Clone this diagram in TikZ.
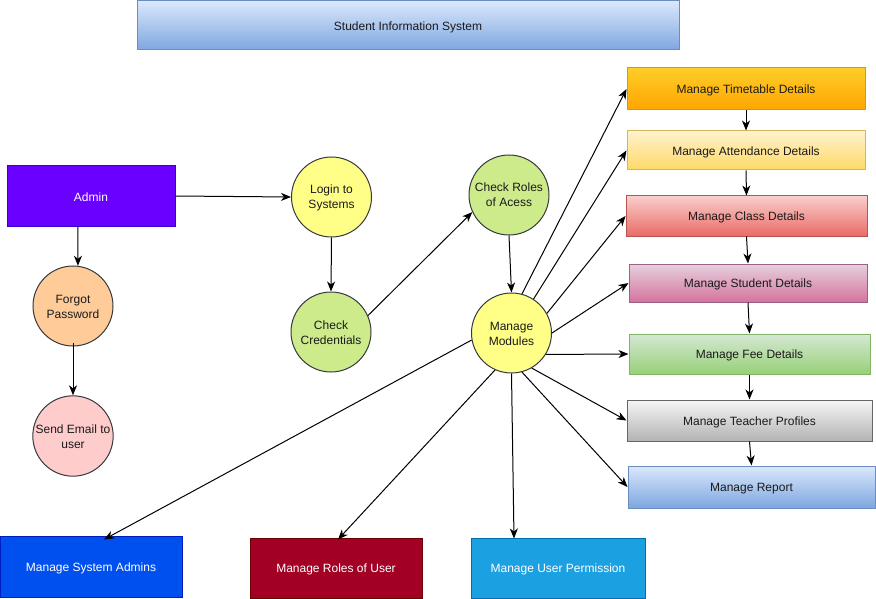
\documentclass[tikz,border=0pt]{standalone}
\usepackage{fontspec}
\setmainfont{Liberation Sans}
\usetikzlibrary{arrows.meta,calc}
\definecolor{txt}{HTML}{1A1A1A}
\definecolor{circbd}{HTML}{36393D}
\newcommand{\lowtext}[1]{\raisebox{-1.5pt}[\height][\depth]{#1}}
\newcommand{\lowlines}[2]{\raisebox{-1.5pt}[\height][\depth]{\begin{tabular}{@{}c@{}}#1\\#2\end{tabular}}}
\begin{document}
\begin{tikzpicture}[x=1pt,y=-1pt,
  font=\fontsize{12}{15}\selectfont,
  gbox/.style={draw, line width=1pt, inner sep=0pt, align=center, text=txt},
  sbox/.style={draw, line width=1pt, inner sep=0pt, align=center, text=white},
  circ/.style={circle, draw=circbd, line width=1pt, minimum size=80pt, inner sep=0pt, align=center, text=txt},
  conn/.style={line width=1pt, -{Stealth[length=10pt,width=8pt,inset=3pt]}}
]
\useasboundingbox (0,0) rectangle (876,599);

% title
\node[gbox, top color={rgb,255:red,218;green,232;blue,252}, bottom color={rgb,255:red,126;green,166;blue,224}, draw={rgb,255:red,108;green,142;blue,191}, minimum width=542pt, minimum height=49pt] (title) at (408,25.5) {\lowtext{Student Information System}};

% left side
\node[sbox, fill={rgb,255:red,106;green,0;blue,255}, draw={rgb,255:red,55;green,0;blue,204}, minimum width=168pt, minimum height=60pt] (admin) at (91,196) {\lowtext{Admin}};
\node[circ, fill={rgb,255:red,255;green,204;blue,153}] (fp) at (73,306) {\lowlines{Forgot}{Password}};
\node[circ, fill={rgb,255:red,255;green,204;blue,204}] (se) at (73,436) {\lowlines{Send Email to}{user}};

% middle circles
\node[circ, fill={rgb,255:red,255;green,255;blue,136}] (login) at (331.5,197) {\lowlines{Login to}{Systems}};
\node[circ, fill={rgb,255:red,205;green,235;blue,139}] (cc) at (331,332) {\lowlines{Check}{Credentials}};
\node[circ, fill={rgb,255:red,205;green,235;blue,139}] (cro) at (509,195) {\lowlines{Check Roles}{of Acess}};
\node[circ, fill={rgb,255:red,255;green,255;blue,136}] (mm) at (511.5,333) {\lowlines{Manage}{Modules}};

% right column
\node[gbox, top color={rgb,255:red,255;green,205;blue,40}, bottom color={rgb,255:red,255;green,165;blue,0}, draw={rgb,255:red,215;green,155;blue,0}, minimum width=238pt, minimum height=42pt] (tt) at (746,89) {\lowtext{Manage Timetable Details}};
\node[gbox, top color={rgb,255:red,255;green,242;blue,204}, bottom color={rgb,255:red,255;green,217;blue,102}, draw={rgb,255:red,214;green,182;blue,86}, minimum width=238pt, minimum height=39pt] (att) at (746,150.5) {\lowtext{Manage Attendance Details}};
\node[gbox, top color={rgb,255:red,248;green,206;blue,204}, bottom color={rgb,255:red,234;green,107;blue,102}, draw={rgb,255:red,184;green,84;blue,80}, minimum width=241pt, minimum height=40pt] (cls) at (746.5,216) {\lowtext{Manage Class Details}};
\node[gbox, top color={rgb,255:red,230;green,208;blue,222}, bottom color={rgb,255:red,213;green,115;blue,157}, draw={rgb,255:red,153;green,97;blue,133}, minimum width=238pt, minimum height=38pt] (stu) at (748,283) {\lowtext{Manage Student Details}};
\node[gbox, top color={rgb,255:red,213;green,232;blue,212}, bottom color={rgb,255:red,151;green,208;blue,119}, draw={rgb,255:red,130;green,179;blue,102}, minimum width=241pt, minimum height=40pt] (fee) at (749.5,354) {\lowtext{Manage Fee Details}};
\node[gbox, top color={rgb,255:red,245;green,245;blue,245}, bottom color={rgb,255:red,179;green,179;blue,179}, draw={rgb,255:red,102;green,102;blue,102}, minimum width=245pt, minimum height=41pt] (tch) at (749.5,420.5) {\lowtext{Manage Teacher Profiles}};
\node[gbox, top color={rgb,255:red,218;green,232;blue,252}, bottom color={rgb,255:red,126;green,166;blue,224}, draw={rgb,255:red,108;green,142;blue,191}, minimum width=247pt, minimum height=42pt] (rep) at (751.5,487) {\lowtext{Manage Report}};

% bottom row
\node[sbox, fill={rgb,255:red,0;green,80;blue,239}, draw={rgb,255:red,0;green,29;blue,188}, minimum width=182pt, minimum height=61pt] (sa) at (91,566.5) {\lowtext{Manage System Admins}};
\node[sbox, fill={rgb,255:red,162;green,0;blue,37}, draw={rgb,255:red,111;green,0;blue,0}, minimum width=172pt, minimum height=60pt] (ru) at (336,568) {\lowtext{Manage Roles of User}};
\node[sbox, fill={rgb,255:red,27;green,161;blue,226}, draw={rgb,255:red,0;green,110;blue,175}, minimum width=174pt, minimum height=60pt] (pm) at (558,568) {\lowtext{Manage User Permission}};

% connectors
\draw[conn] (admin.east) -- (login.west);
\draw[conn] ([xshift=-13pt]admin.south) -- (fp.83);
\draw[conn] ([yshift=4pt]fp.south) -- (se.north);
\draw[conn] (login.south) -- (cc.north);
\draw[conn] (cc.24) -- (cro.205);
\draw[conn] (cro.south) -- (mm.north);

\draw[conn] (mm.75) -- (tt.west);
\draw[conn] (mm.57) -- (att.west);
\draw[conn] (mm.29) -- (cls.west);
\draw[conn] (mm.0) -- (stu.west);
\draw[conn] (mm.-32) -- (fee.west);
\draw[conn] (mm.-60) -- (tch.west);
\draw[conn] (mm.-75) -- (rep.west);
\draw[conn] (mm.190) -- ([xshift=13pt,yshift=-4pt]sa.north);
\draw[conn] (mm.246) -- ([xshift=2pt,yshift=-2pt]ru.north);
\draw[conn] (mm.270) -- ([xshift=-44pt,yshift=-1pt]pm.north);

\draw[conn] (tt.south) -- (att.north);
\draw[conn] (att.south) -- (cls.north);
\draw[conn] (cls.south) -- (stu.north);
\draw[conn] (stu.south) -- (fee.north);
\draw[conn] (fee.south) -- (tch.north);
\draw[conn] (tch.south) -- (rep.north);
\end{tikzpicture}
\end{document}
